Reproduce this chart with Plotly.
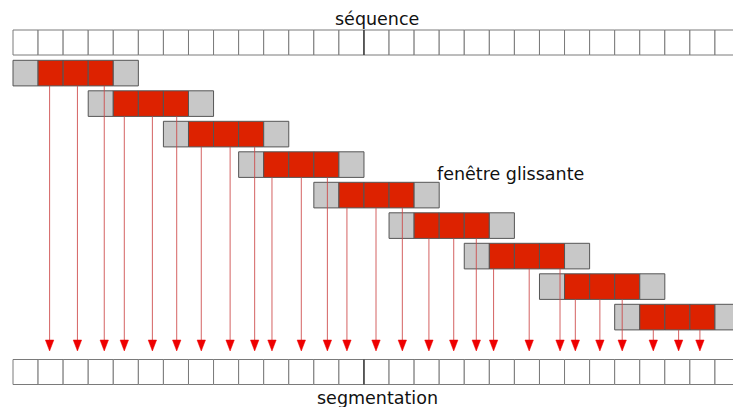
import plotly.graph_objects as go

# ---------------- data ----------------
n_cells = 29                      # cells in the sequence / segmentation rows
mid_cell = 14                     # boundary drawn darker
window_starts = [0, 3, 6, 9, 12, 15, 18, 21, 24]
window_pattern = ["edge", "core", "core", "core", "edge"]
# arrow positions (in cell units) for each window's 3 core cells
arrow_x = [
    [1.46, 2.57, 3.64],
    [4.44, 5.56, 6.53],
    [7.51, 8.66, 9.64],
    [10.33, 11.50, 12.54],
    [13.32, 14.48, 15.53],
    [16.59, 17.58, 18.48],
    [19.17, 20.59, 21.82],
    [22.43, 23.41, 24.30],
    [25.54, 26.55, 27.40],
]
labels = ["séquence", "fenêtre glissante", "segmentation"]

# ---------------- styling / geometry ----------------
W, H = 733, 407
CELL_PX, X0_PX = 25.07, 13.0
SEQ_TOP, ROW_H = 30.0, 25.0
WIN_TOP0, WIN_STEP, WIN_H = 60.3, 30.5, 25.6
SEG_TOP = 359.5
HEAD_TOP, HEAD_TIP, HEAD_HALF = 340.0, 351.0, 4.2 / CELL_PX
RED, GREY, BORDER = "#dd2200", "#c8c8c8", "#555555"
CELL_LINE = "#7a7a7a"
FONT = dict(family="DejaVu Sans", size=17.5, color="#111111")

fig = go.Figure()
shapes = []

def cell_row(top):
    for c in range(n_cells):
        shapes.append(dict(type="rect", xref="x", yref="y", layer="below",
                           x0=c, x1=c + 1, y0=top, y1=top + ROW_H,
                           fillcolor="white", line=dict(color=CELL_LINE, width=1)))
    shapes.append(dict(type="line", xref="x", yref="y", layer="below",
                       x0=mid_cell, x1=mid_cell, y0=top, y1=top + ROW_H,
                       line=dict(color="#333333", width=1.3)))

cell_row(SEQ_TOP)
cell_row(SEG_TOP)

for k, s in enumerate(window_starts):
    top = WIN_TOP0 + k * WIN_STEP
    for j, kind in enumerate(window_pattern):
        shapes.append(dict(type="rect", xref="x", yref="y", layer="below",
                           x0=s + j, x1=s + j + 1, y0=top, y1=top + WIN_H,
                           fillcolor=RED if kind == "core" else GREY,
                           line=dict(color=BORDER, width=1)))

# arrow shafts and heads
lx, ly = [], []
tx, ty = [], []
for k, xs in enumerate(arrow_x):
    bottom = WIN_TOP0 + k * WIN_STEP + WIN_H
    for x in xs:
        lx += [x, x, None]
        ly += [bottom, HEAD_TOP, None]
        tx += [x - HEAD_HALF, x + HEAD_HALF, x, x - HEAD_HALF, None]
        ty += [HEAD_TOP, HEAD_TOP, HEAD_TIP, HEAD_TOP, None]

fig.add_trace(go.Scatter(x=lx, y=ly, mode="lines", hoverinfo="skip",
                         line=dict(color="rgba(205,70,70,0.85)", width=1)))
fig.add_trace(go.Scatter(x=tx, y=ty, mode="lines", fill="toself", hoverinfo="skip",
                         fillcolor="#ee0000", line=dict(color="#ee0000", width=0.5)))

def px2x(px):
    return (px - X0_PX) / CELL_PX

annotations = [
    dict(text=labels[0], x=px2x(377), y=19, xref="x", yref="y", showarrow=False,
         font=FONT, xanchor="center", yanchor="middle"),
    dict(text=labels[1], x=px2x(510), y=174, xref="x", yref="y", showarrow=False,
         font=FONT, xanchor="center", yanchor="middle"),
    dict(text=labels[2], x=px2x(377), y=398, xref="x", yref="y", showarrow=False,
         font=FONT, xanchor="center", yanchor="middle"),
]

fig.update_layout(
    width=W, height=H, margin=dict(l=0, r=0, t=0, b=0),
    paper_bgcolor="white", plot_bgcolor="white", showlegend=False,
    shapes=shapes, annotations=annotations, hovermode=False,
    xaxis=dict(range=[px2x(0), px2x(W)], visible=False, fixedrange=True),
    yaxis=dict(range=[H, 0], visible=False, fixedrange=True),
)

fig.write_html("out.html", config={"displayModeBar": False},
               post_script="document.body.style.margin='0';document.body.style.overflow='hidden';")
